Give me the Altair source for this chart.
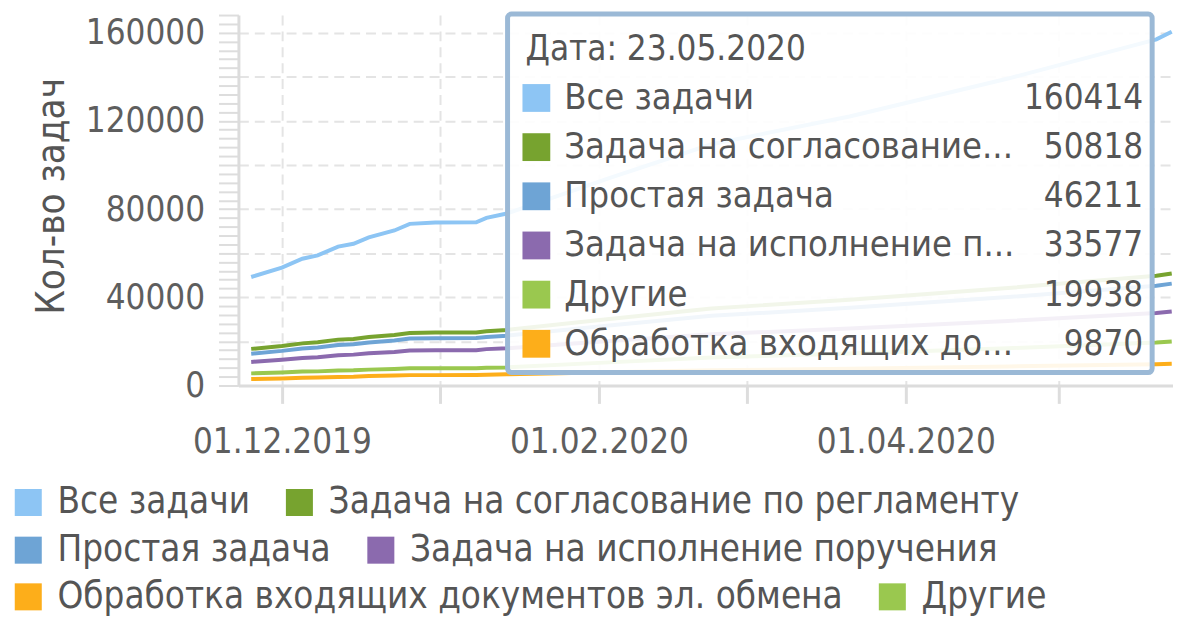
import altair as alt
import pandas as pd

# ---------------- data ----------------
dates = ["2019-11-25", "2019-12-01", "2019-12-05", "2019-12-08", "2019-12-12",
         "2019-12-15", "2019-12-18", "2019-12-23", "2019-12-26", "2019-12-31",
         "2020-01-08", "2020-01-10", "2020-01-14", "2020-02-03", "2020-02-23",
         "2020-03-21", "2020-04-21", "2020-05-20", "2020-05-23"]

series_names = ["Все задачи",
                "Задача на согласование по регламенту",
                "Простая задача",
                "Задача на исполнение поручения",
                "Обработка входящих документов эл. обмена",
                "Другие"]
colors = ["#8dc5f4", "#77a32f", "#6ea4d5", "#8b6aae", "#fdae1a", "#9ac84f"]

# legend rows as shown under the chart
legend_rows = [["Все задачи", "Задача на согласование по регламенту"],
               ["Простая задача", "Задача на исполнение поручения"],
               ["Обработка входящих документов эл. обмена", "Другие"]]

vals_all = [49200, 53500, 57500, 59000, 63000, 64300, 67200, 70300, 73300, 73900,
            74000, 76000, 78000, 94000, 109400, 122000, 139200, 157000, 160414]
vals_agree = [16600, 17900, 19100, 19600, 20800, 21100, 22000, 22900, 23800, 24000,
              24000, 24600, 25200, 30170, 34960, 38880, 44230, 49770, 50818]
vals_simple = [14400, 15700, 16800, 17200, 18400, 18700, 19500, 20400, 21300, 21400,
               21500, 22000, 22600, 27180, 31600, 35210, 40140, 45240, 46211]
vals_exec = [10700, 11700, 12500, 12800, 13700, 14000, 14600, 15200, 15900, 16000,
             16000, 16500, 16900, 20140, 23250, 25810, 29290, 32890, 33577]
vals_inbox = [2900, 3200, 3500, 3600, 3900, 4000, 4300, 4500, 4700, 4700,
              4800, 4900, 5100, 6030, 6920, 7650, 8640, 9670, 9870]
vals_other = [5500, 5900, 6300, 6400, 6800, 6900, 7200, 7500, 7800, 7800,
              7800, 8000, 8200, 10480, 12670, 14470, 16920, 19460, 19938]

tooltip_title = "Дата: 23.05.2020"
tooltip_series = ["Все задачи", "Задача на согласование по регламенту", "Простая задача",
                  "Задача на исполнение поручения", "Другие",
                  "Обработка входящих документов эл. обмена"]
tooltip_labels = ["Все задачи", "Задача на согласование...", "Простая задача",
                  "Задача на исполнение п...", "Другие", "Обработка входящих до..."]
tooltip_values = ["160414", "50818", "46211", "33577", "19938", "9870"]

y_title = "Кол-во задач"

# ---------------- tables ----------------
series_values = [vals_all, vals_agree, vals_simple, vals_exec, vals_inbox, vals_other]
color_of = dict(zip(series_names, colors))
rows = []
for name, vals in zip(series_names, series_values):
    for d, v in zip(dates, vals):
        rows.append({"date": d + "T00:00:00", "series": name, "value": v})
df = pd.DataFrame(rows)

tip_df = pd.DataFrame({
    "row": list(range(1, len(tooltip_series) + 1)),
    "series": tooltip_series,
    "label": tooltip_labels,
    "val": tooltip_values,
})
tip_title_df = pd.DataFrame({"row": [0], "label": [tooltip_title]})
box_df = pd.DataFrame({"k": [0]})

FONT = "DejaVu Sans Condensed, Liberation Sans, sans-serif"
TXT = "#555555"
FS = 35          # digits / dates
FS_TIP = 36.3    # tooltip series names
FS_LEG = 36.8    # legend labels
LEGEND_Y = [472, 520, 567]

x_ticks = [alt.DateTime(year=2019, month=12, date=1),
           alt.DateTime(year=2020, month=1, date=1),
           alt.DateTime(year=2020, month=2, date=1),
           alt.DateTime(year=2020, month=3, date=1),
           alt.DateTime(year=2020, month=4, date=1),
           alt.DateTime(year=2020, month=5, date=1)]

x_enc = alt.X(
    "date:T",
    title=None,
    scale=alt.Scale(domain=[alt.DateTime(year=2019, month=11, date=22, hours=12),
                            alt.DateTime(year=2020, month=5, date=23, hours=6)]),
    axis=alt.Axis(
        values=x_ticks,
        labelExpr="month(datum.value) % 2 === 1 ? timeFormat(datum.value, '%d.%m.%Y') : ''",
        labelOverlap=False,
        labelFlush=False,
        labelLimit=400,
        labelFontSize=FS,
        labelColor="#5e5e5e",
        labelPadding=21,
        labelFont=FONT,
        grid=True,
        gridDash=[10, 6],
        gridColor="#e4e4e4",
        gridWidth=2,
        tickSize=18,
        tickColor="#dddddd",
        tickWidth=3,
        domainColor="#dcdcdc",
        domainWidth=3,
    ),
)

y_enc = alt.Y(
    "value:Q",
    scale=alt.Scale(domain=[0, 168000], nice=False),
    axis=alt.Axis(
        values=list(range(0, 168001, 4000)),
        format="d",
        labelExpr="datum.value % 40000 === 0 ? datum.label : ''",
        labelOverlap=False,
        labelLimit=400,
        labelFontSize=FS,
        labelColor="#5e5e5e",
        labelPadding=14,
        labelFont=FONT,
        grid=True,
        gridDash=[10, 6],
        gridColor="#e4e4e4",
        gridWidth=2,
        gridOpacity={"condition": {"test": "datum.value % 20000 === 0", "value": 1}, "value": 0},
        tickSize=20,
        tickColor="#dddddd",
        tickWidth=2,
        domainColor="#dcdcdc",
        domainWidth=3,
        title=y_title,
        titleFontSize=38.5,
        titleFont=FONT,
        titleFontWeight="normal",
        titleColor=TXT,
        titleX=-188,
        titleY=182,
        titleBaseline="middle",
        titleAlign="center",
    ),
)

lines = alt.Chart(df).mark_line(strokeWidth=4, interpolate="linear").encode(
    x=x_enc,
    y=y_enc,
    stroke=alt.Stroke("series:N", sort=series_names, scale=alt.Scale(range=colors),
                      legend=None),
    detail="series:N",
)

row_y = alt.Y("row:Q", scale=alt.Scale(domain=[0, 6], range=[34, 331]), axis=None)

box = alt.Chart(box_df).mark_rect(
    fill="white", fillOpacity=0.9, stroke="#9bb9d6", strokeWidth=5, cornerRadius=4
).encode(
    x=alt.value(271), x2=alt.value(920), y=alt.value(-1), y2=alt.value(360)
)

tip_title = alt.Chart(tip_title_df).mark_text(
    align="left", baseline="middle", fontSize=FS, font=FONT, color=TXT
).encode(x=alt.value(289), y=row_y, text="label:N")

# tooltip squares; each legend row gets its own fill scale + legend
sq_layers = []
for i, group in enumerate(legend_rows):
    sub = tip_df[tip_df["series"].isin(group)]
    sq_layers.append(
        alt.Chart(sub).mark_square(size=784, opacity=1, strokeWidth=0).encode(
            x=alt.value(300),
            y=row_y,
            fill=alt.Fill(
                "series:N",
                scale=alt.Scale(domain=group, range=[color_of[s] for s in group]),
                legend=alt.Legend(
                    orient="none",
                    legendX=-230,
                    legendY=LEGEND_Y[i],
                    direction="horizontal",
                    symbolType="square",
                    symbolSize=740,
                    symbolStrokeWidth=0,
                    symbolOpacity=1,
                    labelFontSize=FS_LEG,
                    labelFont=FONT,
                    labelColor=TXT,
                    labelLimit=1000,
                    labelOffset=11,
                    columnPadding=31,
                    title=None,
                    padding=0,
                ),
            ),
        )
    )

tip_labels = alt.Chart(tip_df).mark_text(
    align="left", baseline="middle", fontSize=FS_TIP, font=FONT, color=TXT
).encode(x=alt.value(328), y=row_y, text="label:N")

tip_vals = alt.Chart(tip_df).mark_text(
    align="right", baseline="middle", fontSize=FS, font=FONT, color=TXT
).encode(x=alt.value(911), y=row_y, text="val:N")

tooltip_layer = alt.layer(box, tip_title, *sq_layers, tip_labels, tip_vals).resolve_scale(
    fill="independent"
)

chart = alt.layer(lines, tooltip_layer).resolve_scale(
    y="independent", fill="independent"
).properties(
    width=941,
    height=373,
    autosize=alt.AutoSizeParams(type="none"),
    padding={"left": 232, "top": 5, "right": 0, "bottom": 231},
).configure(
    font=FONT,
).configure_view(
    stroke=None,
)

chart.save("out.html", embed_options={"renderer": "svg", "actions": False})
